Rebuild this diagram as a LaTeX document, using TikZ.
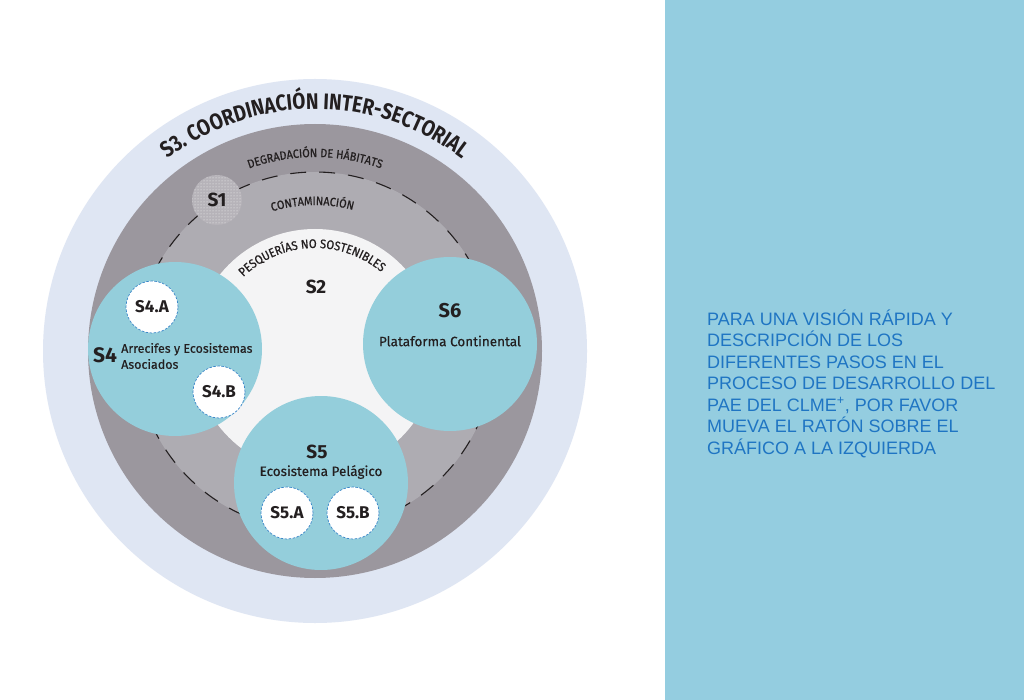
\documentclass[tikz,border=0pt]{standalone}
\usepackage{fontspec}
\setmainfont{Fira Sans}
\newfontfamily\panelfont{Liberation Sans}
\newfontfamily\condfont{Fira Sans}[FakeStretch=0.84]
\newfontfamily\arcfont{Fira Sans}[FakeStretch=0.9, FakeBold=0.7]
\newfontfamily\medfont{Fira Sans}[FakeBold=0.4]
\usetikzlibrary{decorations.text,patterns,calc}
\definecolor{outerc}{HTML}{DFE6F3}
\definecolor{darkg}{HTML}{9B979E}
\definecolor{midg}{HTML}{AEACB2}
\definecolor{innerc}{HTML}{F4F4F5}
\definecolor{tealc}{HTML}{94CEDB}
\definecolor{panelc}{HTML}{94CDE0}
\definecolor{textc}{HTML}{231F20}
\definecolor{bluec}{HTML}{1F75C3}
\definecolor{subline}{HTML}{3A86C8}
\definecolor{sonec}{HTML}{B6B3B9}
\tikzset{
  bigc/.style={circle, fill=tealc, minimum size=174pt, inner sep=0pt},
  subc/.style={circle, fill=white, draw=subline, dash pattern=on 2.5pt off 1.5pt, line width=0.7pt, minimum size=52pt, inner sep=0pt, text=textc, font=\bfseries\fontsize{17}{17}\selectfont},
  slab/.style={text=textc, inner sep=0pt, font=\bfseries\fontsize{19}{19}\selectfont},
  sublab/.style={text=textc, inner sep=0pt, font=\medfont\fontsize{13.5}{16}\selectfont},
  paneltxt/.style={anchor=base west, inner sep=0pt, text=bluec, font=\panelfont\fontsize{18}{21.5}\selectfont},
  ringtext/.style={decorate, decoration={text along path, text align=center, text color=textc, text={#1}}}
}
\begin{document}
\begin{tikzpicture}[x=1pt,y=1pt]
\useasboundingbox (0,0) rectangle (1024,-700);
\fill[white] (0,0) rectangle (1024,-700);
\fill[panelc] (665,0) rectangle (1024,-700);
\coordinate (c) at (315,-351);
\fill[outerc] (c) circle[radius=272];
\fill[darkg] (c) circle[radius=227];
\fill[midg] (c) circle[radius=179];
\draw[textc, line width=1.1pt, dash pattern=on 16pt off 13pt] (c) circle[radius=179];
\fill[innerc] (c) circle[radius=122];
% ring texts
\path[ringtext={|\condfont\bfseries\fontsize{22.5}{22.5}\selectfont|S3. COORDINACIÓN INTER-SECTORIAL}]
  ($(c)+(150:242)$) arc[start angle=150, end angle=30, radius=242];
\path[ringtext={|\arcfont\fontsize{12}{12}\selectfont|DEGRADACIÓN DE HÁBITATS}]
  ($(c)+(130:194)$) arc[start angle=130, end angle=50, radius=194];
\path[ringtext={|\arcfont\fontsize{12}{12}\selectfont|CONTAMINACIÓN}]
  ($(c)+(130:146)$) arc[start angle=130, end angle=52, radius=146];
\path[ringtext={|\arcfont\fontsize{12.5}{12.5}\selectfont|PESQUERÍAS NO SOSTENIBLES}]
  ($(c)+(160:103)$) arc[start angle=160, end angle=24, radius=103];
% S1
\node[circle, minimum size=50pt, inner sep=0pt, fill=sonec, postaction={pattern=dots, pattern color=white!85!sonec}] (s1c) at (217,-200) {};
\node[slab] (s1) at (217,-200) {S1};
\node[slab] (s2) at (316,-287) {S2};
% big circles
\node[bigc] (s4c) at (175,-349) {};
\node[bigc] (s6c) at (450,-344) {};
\node[bigc] (s5c) at (321,-483) {};
% S4
\node[slab, font=\bfseries\fontsize{21}{21}\selectfont] (s4) at (105,-355) {S4};
\node[sublab, anchor=west, align=left, font=\medfont\fontsize{12.5}{16}\selectfont] (s4t) at (121,-356) {Arrecifes y Ecosistemas\\Asociados};
\node[subc] (s4a) at (152,-307) {S4.A};
\node[subc] (s4b) at (219,-392) {S4.B};
% S6
\node[slab, font=\bfseries\fontsize{20}{20}\selectfont] (s6) at (450,-311) {S6};
\node[sublab] (s6t) at (450,-341) {Plataforma Continental};
% S5
\node[slab] (s5) at (317,-452) {S5};
\node[sublab] (s5t) at (321,-472) {Ecosistema Pelágico};
\node[subc] (s5a) at (287,-513) {S5.A};
\node[subc] (s5b) at (353,-513) {S5.B};
% panel text
\node[paneltxt] (p1) at (707,-325) {PARA UNA VISIÓN RÁPIDA Y};
\node[paneltxt] (p2) at (707,-346.5) {DESCRIPCIÓN DE LOS};
\node[paneltxt] (p3) at (707,-368) {DIFERENTES PASOS EN EL};
\node[paneltxt] (p4) at (707,-389.5) {PROCESO DE DESARROLLO DEL};
\node[paneltxt] (p5) at (707,-411) {PAE DEL CLME\textsuperscript{+}, POR FAVOR};
\node[paneltxt] (p6) at (707,-432.5) {MUEVA EL RATÓN SOBRE EL};
\node[paneltxt] (p7) at (707,-454) {GRÁFICO A LA IZQUIERDA};
\end{tikzpicture}
\end{document}
